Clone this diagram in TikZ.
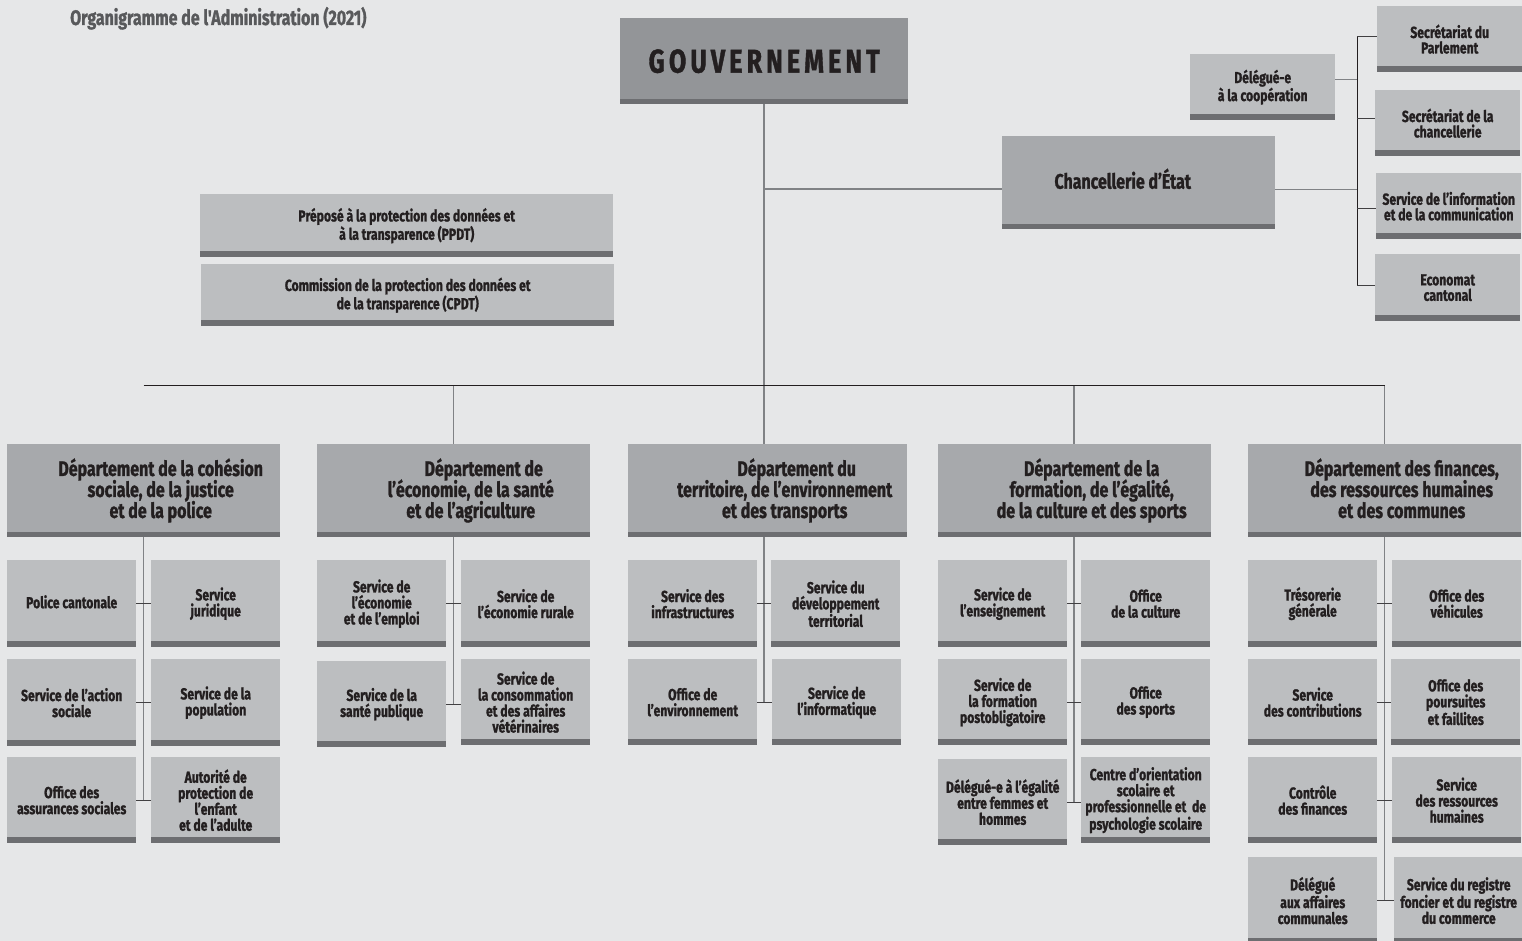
\documentclass[tikz,border=0pt]{standalone}
\usepackage{fontspec}
\setmainfont{Fira Sans}[FakeStretch=0.76, BoldFeatures={FakeBold=1.2}]
\usetikzlibrary{calc}
\definecolor{bgc}{HTML}{E6E7E8}
\definecolor{subc}{HTML}{BCBEC0}
\definecolor{depc}{HTML}{A7A9AC}
\definecolor{govc}{HTML}{939598}
\definecolor{barc}{HTML}{6D6E71}
\definecolor{txtc}{HTML}{231F20}
\definecolor{titc}{HTML}{58595B}
\definecolor{linec}{HTML}{808285}
\definecolor{tickc}{HTML}{414042}
\newcommand\deplines[1]{\hspace*{34pt}\parbox{230pt}{\centering\lineskiplimit=-30pt\baselineskip=21pt \rule{0pt}{16pt}#1\rule[-5pt]{0pt}{5pt}}}
\tikzset{
  barbox/.style={anchor=north west, inner sep=0pt, text=txtc,
    path picture={\fill[barc] (path picture bounding box.south west) rectangle ([yshift=#1]path picture bounding box.south east);}},
  sub/.style={barbox=6pt, fill=subc, minimum width=129pt, minimum height=87pt, align=center,
    font=\bfseries\fontsize{16}{16}\selectfont},
  small/.style={barbox=6pt, fill=subc, minimum width=145pt, minimum height=66pt, align=center,
    font=\bfseries\fontsize{16}{15.5}\selectfont},
  wide/.style={barbox=6pt, fill=subc, minimum width=413pt, minimum height=62pt, align=center,
    font=\bfseries\fontsize{16}{16}\selectfont},
  dept/.style={barbox=5pt, fill=depc, minimum width=273pt, minimum height=93pt,
    font=\bfseries\fontsize{21}{21}\selectfont},
  grayline/.style={draw=linec, line width=1.5pt},
  darkline/.style={draw=txtc, line width=1.4pt},
  tick/.style={draw=tickc, line width=1.2pt},
}
\begin{document}
\begin{tikzpicture}[x=1pt, y=-1pt]
\useasboundingbox (0,0) rectangle (1522,941);
\fill[bgc] (0,0) rectangle (1522,941);

% title
\node[anchor=base west, inner sep=0pt, text=titc, font=\bfseries\fontsize{21}{22}\selectfont] (title) at (70,25) {\addfontfeature{Ligatures=TeXOff}Organigramme de l'Administration (2021)};

% top
\node[barbox=5pt, fill=govc, minimum width=288pt, minimum height=86pt, font=\bfseries\fontsize{33}{36}\selectfont] (gov) at (620,18) {\addfontfeature{LetterSpace=12.5}GOUVERNEMENT};
\node[barbox=5pt, fill=depc, minimum width=273pt, minimum height=93pt, font=\bfseries\fontsize{21}{23}\selectfont] (ch) at (1002,136) {Chancellerie d’État\hspace*{32pt}\rule[-8pt]{0pt}{1pt}};
\node[small] (del) at (1190,54) {Délégué-e\\à la coopération};
\node[small] (sp) at (1377,6) {Secrétariat du\\Parlement};
\node[small] (sc) at (1375,90) {Secrétariat de la\\chancellerie};
\node[small] (si) at (1376,173) {Service de l’information\\et de la communication};
\node[small, minimum height=67pt] (ec) at (1375,254) {Economat\\cantonal};

\node[wide, minimum height=63pt] (ppdt) at (200,194) {Préposé à la protection des données et\\à la transparence (PPDT)};
\node[wide] (cpdt) at (201,264) {Commission de la protection des données et\\de la transparence (CPDT)};

% departments
\node[dept] (d1) at (7,444) {\deplines{Département de la cohésion\\sociale, de la justice\\et de la police}};
\node[dept] (d2) at (317,444) {\deplines{\hspace*{26pt}Département de\\l’économie, de la santé\\et de l’agriculture}};
\node[dept, minimum width=279pt] (d3) at (628,444) {\deplines{\hspace*{24pt}Département du\\territoire, de l’environnement\\et des transports}};
\node[dept] (d4) at (938,444) {\deplines{Département de la\\formation, de l’égalité,\\de la culture et des sports}};
\node[dept] (d5) at (1248,444) {\deplines{Département des finances,\\des ressources humaines\\et des communes}};

% dept 1
\node[sub] (d1a1) at (7,560) {Police cantonale\rule[-4pt]{0pt}{1pt}};
\node[sub] (d1b1) at (151,560) {Service\\juridique};
\node[sub] (d1a2) at (7,659) {Service de l’action\\sociale};
\node[sub] (d1b2) at (151,659) {Service de la\\population};
\node[sub, minimum height=86pt] (d1a3) at (7,757) {Office des\\assurances sociales};
\node[sub, minimum height=86pt] (d1b3) at (151,757) {Autorité de\\protection de\\l’enfant\\et de l’adulte};
% dept 2
\node[sub] (d2a1) at (317,560) {Service de\\l’économie\\et de l’emploi};
\node[sub] (d2b1) at (461,560) {Service de\\l’économie rurale};
\node[sub, minimum height=86pt] (d2a2) at (317,661) {Service de la\\santé publique};
\node[sub, minimum height=86pt] (d2b2) at (461,659) {Service de\\la consommation\\et des affaires\\vétérinaires};
% dept 3
\node[sub] (d3a1) at (628,560) {Service des\\infrastructures};
\node[sub] (d3b1) at (771,560) {Service du\\développement\\territorial};
\node[sub, minimum height=86pt] (d3a2) at (628,659) {Office de\\l’environnement};
\node[sub, minimum height=86pt] (d3b2) at (772,659) {Service de\\l’informatique};
% dept 4
\node[sub] (d4a1) at (938,560) {Service de\\l’enseignement};
\node[sub] (d4b1) at (1081,560) {Office\\de la culture};
\node[sub, minimum height=86pt] (d4a2) at (938,659) {Service de\\la formation\\postobligatoire};
\node[sub, minimum height=86pt] (d4b2) at (1081,659) {Office\\des sports};
\node[sub, minimum height=86pt] (d4a3) at (938,759) {Délégué-e à l’égalité\\entre femmes et\\hommes};
\node[sub, minimum height=86pt] (d4b3) at (1081,757) {Centre d’orientation\\scolaire et\\professionnelle et~ de\\psychologie scolaire};
% dept 5
\node[sub] (d5a1) at (1248,560) {Trésorerie\\générale};
\node[sub] (d5b1) at (1392,560) {Office des\\véhicules};
\node[sub, minimum height=86pt] (d5a2) at (1248,659) {Service\\des contributions};
\node[sub, minimum height=86pt] (d5b2) at (1391,659) {Office des\\poursuites\\et faillites};
\node[sub, minimum height=86pt] (d5a3) at (1248,757) {Contrôle\\des finances};
\node[sub, minimum height=86pt] (d5b3) at (1392,757) {Service\\des ressources\\humaines};
\node[sub] (d5a4) at (1248,857) {Délégué\\aux affaires\\communales};
\node[sub] (d5b4) at (1394,857) {Service du registre\\foncier et du registre\\du commerce};

% spine coordinates
\coordinate (s1) at ($(d1a1.east)!0.5!(d1b1.west)$);
\coordinate (s2) at ($(d2a1.east)!0.5!(d2b1.west)$);
\coordinate (s3) at ($(d3a1.east)!0.5!(d3b1.west)$);
\coordinate (s4) at ($(d4a1.east)!0.5!(d4b1.west)$);
\coordinate (s5) at ($(d5a1.east)!0.5!(d5b1.west)$);
\coordinate (hl) at ($(s1)+(0,-218)$);
\coordinate (hr) at (s5 |- hl);

% main connectors
\draw[grayline] (gov.south) -- (gov.south |- d3.north);
\draw[grayline] (s2 |- hl) -- (s2 |- d2.north);
\draw[grayline] (s4 |- hl) -- (s4 |- d4.north);
\draw[grayline] (s5 |- hl) -- (s5 |- d5.north);
\draw[darkline] (hl) -- (hr);

% chancellerie connectors
\coordinate (chw) at ([yshift=-6.5pt]ch.west);
\coordinate (che) at ([yshift=-6.5pt]ch.east);
\coordinate (dele) at ([yshift=8pt]del.east);
\coordinate (bx) at ($(che)+(82,0)$);
\draw[grayline] (gov.south |- chw) -- (chw);
\draw[grayline, line width=1.2pt] (che) -- (bx);
\draw[grayline, line width=1.2pt] (dele) -- (bx |- dele);
\draw[darkline, line width=1.2pt] ([yshift=3pt]bx |- sp.west) -- ([yshift=2pt]bx |- ec.west);
\draw[tick] ([yshift=3pt]bx |- sp.west) -- ([yshift=3pt]sp.west);
\draw[tick] ([yshift=5pt]bx |- sc.west) -- ([yshift=5pt]sc.west);
\draw[tick] ([yshift=-2pt]bx |- si.west) -- ([yshift=-2pt]si.west);
\draw[tick] ([yshift=2pt]bx |- ec.west) -- ([yshift=2pt]ec.west);

% department spines
\draw[grayline] (s1 |- d1.south) -- (s1 |- d1a3.east);
\draw[grayline] (s2 |- d2.south) -- (s2 |- d2a2.east);
\draw[grayline] (s3 |- d3.south) -- (s3 |- d3a2.east);
\draw[grayline] (s4 |- d4.south) -- (s4 |- d4a3.east);
\draw[grayline] (s5 |- d5.south) -- (s5 |- d5a4.east);

% ticks
\foreach \d/\n in {1/3, 2/2, 3/2, 4/3, 5/4}{
  \foreach \r in {1,...,\n}{
    \draw[tick] (d\d a\r.east) -- (d\d a\r.east -| d\d b\r.west);
  }
}
\end{tikzpicture}
\end{document}
